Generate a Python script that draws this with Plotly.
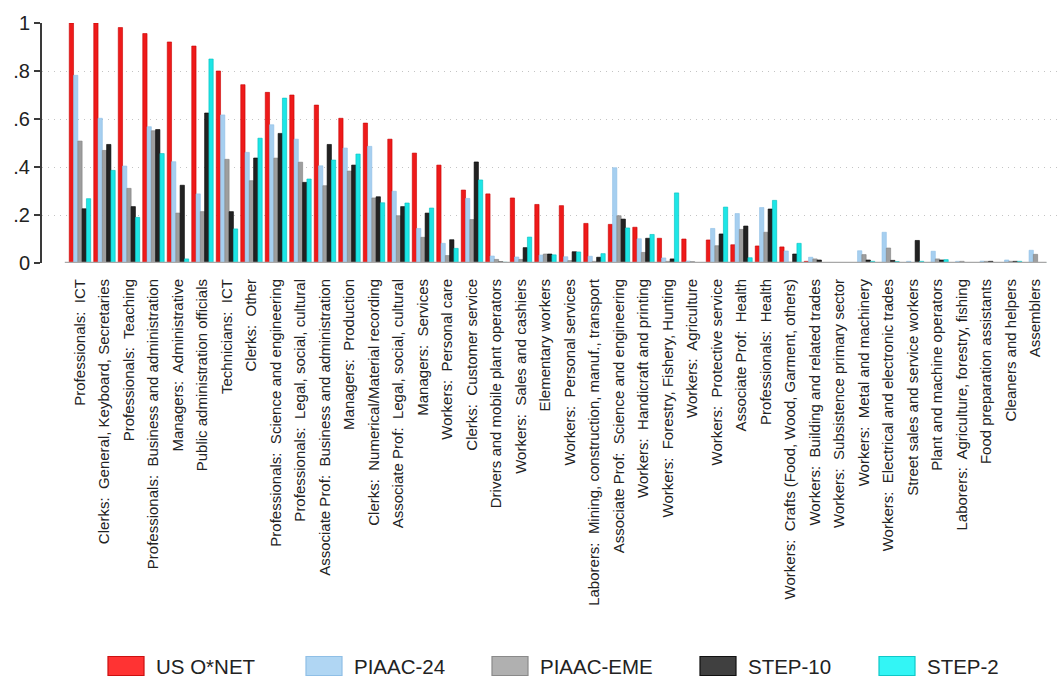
import plotly.graph_objects as go

categories = [
    "Professionals:  ICT",
    "Clerks:  General, Keyboard, Secretaries",
    "Professionals:  Teaching",
    "Professionals:  Business and administration",
    "Managers:  Administrative",
    "Public administration officials",
    "Technicians:  ICT",
    "Clerks:  Other",
    "Professionals:  Science and engineering",
    "Professionals:  Legal, social, cultural",
    "Associate Prof:  Business and administration",
    "Managers:  Production",
    "Clerks:  Numerical/Material recording",
    "Associate Prof:  Legal, social, cultural",
    "Managers:  Services",
    "Workers:  Personal care",
    "Clerks:  Customer service",
    "Drivers and mobile plant operators",
    "Workers:  Sales and cashiers",
    "Elementary workers",
    "Workers:  Personal services",
    "Laborers:  Mining, construction, manuf., transport",
    "Associate Prof:  Science and engineering",
    "Workers:  Handicraft and printing",
    "Workers:  Forestry, Fishery, Hunting",
    "Workers:  Agriculture",
    "Workers:  Protective service",
    "Associate Prof:  Health",
    "Professionals:  Health",
    "Workers:  Crafts (Food, Wood, Garment, others)",
    "Workers:  Building and related trades",
    "Workers:  Subsistence primary sector",
    "Workers:  Metal and machinery",
    "Workers:  Electrical and electronic trades",
    "Street sales and service workers",
    "Plant and machine operators",
    "Laborers:  Agriculture, forestry, fishing",
    "Food preparation assistants",
    "Cleaners and helpers",
    "Assemblers",
]

us_onet = [1.0, 1.0, 0.981, 0.956, 0.921, 0.904, 0.80, 0.743, 0.711, 0.70,
           0.658, 0.603, 0.583, 0.516, 0.458, 0.408, 0.304, 0.288, 0.271, 0.244,
           0.239, 0.165, 0.161, 0.149, 0.103, 0.10, 0.096, 0.076, 0.071, 0.067,
           0.007, 0.0, 0.0, 0.0, 0.0, 0.0, 0.0, 0.0, 0.0, 0.0]

piaac_24 = [0.782, 0.603, 0.404, 0.568, 0.422, 0.288, 0.617, 0.461, 0.576, 0.516,
            0.405, 0.479, 0.486, 0.299, 0.144, 0.082, 0.269, 0.029, 0.025, 0.033,
            0.026, 0.028, 0.397, 0.101, 0.021, 0.008, 0.144, 0.206, 0.231, 0.05,
            0.024, 0.0, 0.051, 0.128, 0.007, 0.049, 0.007, 0.008, 0.0125, 0.053]

piaac_eme = [0.508, 0.469, 0.311, 0.551, 0.208, 0.214, 0.432, 0.343, 0.437, 0.42,
             0.322, 0.383, 0.271, 0.197, 0.107, 0.031, 0.181, 0.015, 0.015, 0.0375,
             0.01, 0.007, 0.197, 0.044, 0.007, 0.006, 0.072, 0.14, 0.128, 0.003,
             0.017, 0.0, 0.035, 0.0625, 0.0, 0.017, 0.007, 0.007, 0.007, 0.036]

step_10 = [0.226, 0.494, 0.235, 0.556, 0.324, 0.625, 0.214, 0.4375, 0.54, 0.336,
           0.494, 0.408, 0.276, 0.235, 0.208, 0.097, 0.421, 0.005, 0.064, 0.0375,
           0.047, 0.024, 0.183, 0.103, 0.017, 0.002, 0.121, 0.154, 0.225, 0.0375,
           0.0125, 0.0, 0.0125, 0.011, 0.094, 0.0125, 0.0, 0.007, 0.007, 0.0]

step_2 = [0.268, 0.386, 0.19, 0.456, 0.017, 0.85, 0.142, 0.52, 0.687, 0.35,
          0.429, 0.454, 0.251, 0.25, 0.229, 0.061, 0.346, 0.003, 0.108, 0.034,
          0.046, 0.039, 0.146, 0.119, 0.292, 0.0, 0.233, 0.022, 0.261, 0.082,
          0.0, 0.0, 0.007, 0.006, 0.007, 0.014, 0.0, 0.0, 0.007, 0.0]

series_names = ["US O*NET", "PIAAC-24", "PIAAC-EME", "STEP-10", "STEP-2"]
series_values = [us_onet, piaac_24, piaac_eme, step_10, step_2]
fill_colors = ["#ee1a1a", "#a6cff0", "#9e9e9e", "#222222", "#1de6e6"]
edge_colors = ["#c80000", "#8ebfe6", "#808080", "#000000", "#00bfbf"]
legend_fill = ["#ff3333", "#b0d6f3", "#b0b0b0", "#404040", "#33f5f5"]
legend_edge = ["#cc1010", "#8fbfe6", "#8a8a8a", "#111111", "#10c8c8"]

y_tick_vals = [0, 0.2, 0.4, 0.6, 0.8, 1.0]
y_tick_text = ["0", ".2", ".4", ".6", ".8", "1"]

labels = [c.replace(":  ", ":\u00a0 ") for c in categories]

fig = go.Figure()
for name, vals, fc, ec in zip(series_names, series_values, fill_colors, edge_colors):
    fig.add_trace(go.Bar(
        x=labels, y=vals, name=name,
        marker=dict(color=fc, line=dict(color=ec, width=0.6)),
        showlegend=False,
    ))

FONT = "Liberation Sans, Arial, sans-serif"

W, H = 1062, 679
ML, MR, MT, MB = 42, 2, 23, 416
PW, PH = W - ML - MR, H - MT - MB


def px_to_paper_x(px):
    return (px - ML) / PW


def px_to_paper_y(py):
    return (H - MB - py) / PH


shapes = []
annotations = []
# baseline under the bars
shapes.append(dict(type="line", xref="x", yref="y", x0=-0.62, x1=39.45, y0=0, y1=0,
                   line=dict(color="#a8a8a8", width=2.5), layer="above"))

# manual legend (Stata-style wide keys)
legend_key_left = [108, 306, 492, 700, 879]
key_w, key_h = 36, 19
legend_cy = 666
for kx, name, fc, ec in zip(legend_key_left, series_names, legend_fill, legend_edge):
    shapes.append(dict(type="rect", xref="paper", yref="paper",
                       x0=px_to_paper_x(kx), x1=px_to_paper_x(kx + key_w),
                       y0=px_to_paper_y(legend_cy + key_h / 2), y1=px_to_paper_y(legend_cy - key_h / 2),
                       fillcolor=fc, line=dict(color=ec, width=1.2)))
    annotations.append(dict(xref="paper", yref="paper", x=px_to_paper_x(kx + key_w + 11),
                            y=px_to_paper_y(legend_cy), xanchor="left", yanchor="middle",
                            text=name, showarrow=False, borderpad=0,
                            font=dict(family=FONT, size=20.5, color="#222222")))

fig.update_layout(
    width=W, height=H,
    margin=dict(l=ML, r=MR, t=MT, b=MB, autoexpand=False),
    paper_bgcolor="white", plot_bgcolor="white",
    barmode="group", bargap=0.125, bargroupgap=0.0,
    showlegend=False,
    font=dict(family=FONT, color="#222222"),
    shapes=shapes, annotations=annotations,
)
fig.update_xaxes(
    type="category", range=[-1.55, 40.0],
    showgrid=False, showline=False, zeroline=False, ticks="",
    tickangle=-90, tickfont=dict(family=FONT, size=15, color="#222222"),
    ticklabelstandoff=12, automargin=False,
)
fig.update_yaxes(
    range=[0, 1], tickvals=y_tick_vals, ticktext=y_tick_text,
    showgrid=True, gridcolor="#c4c4c4", gridwidth=1.3, griddash="1px,5px",
    zeroline=False, showline=True, linecolor="#3a3a3a", linewidth=2,
    ticks="outside", ticklen=6, tickwidth=1.5, tickcolor="#3a3a3a",
    tickfont=dict(family=FONT, size=20, color="#222222"), automargin=False,
)

fig.write_html("out.html", config={"displayModeBar": False},
               post_script="document.body.style.margin='0';document.body.style.overflow='hidden';")
